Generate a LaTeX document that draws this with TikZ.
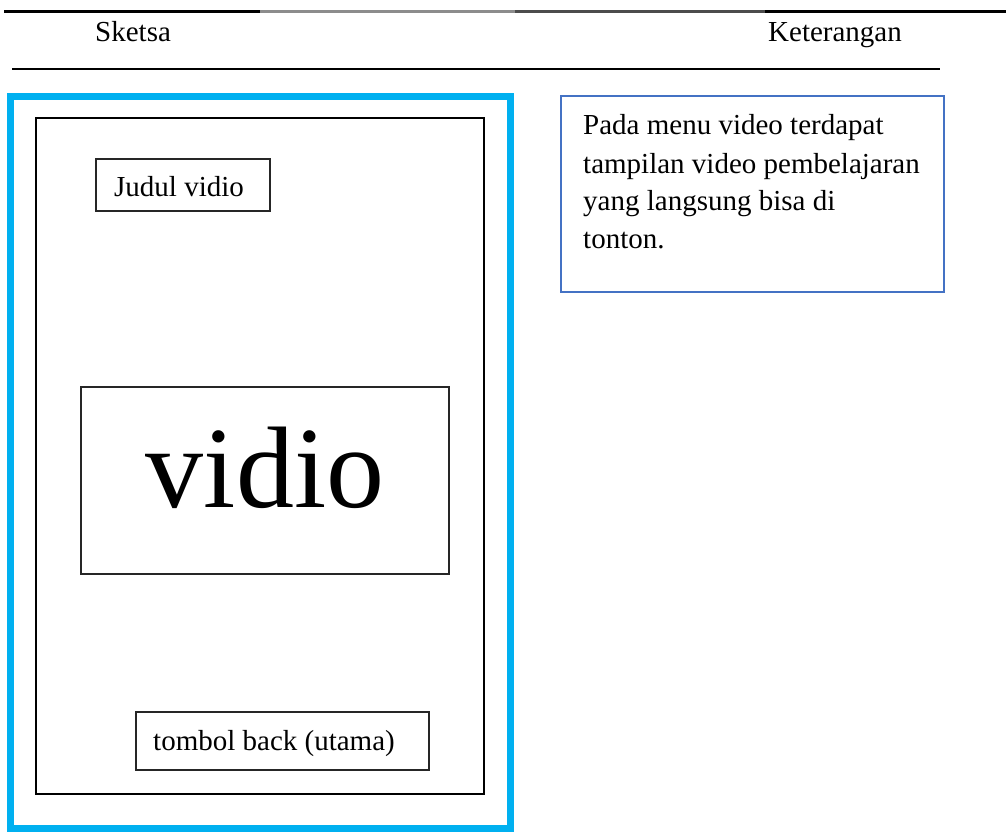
\documentclass[tikz,border=0pt]{standalone}
\usepackage{fontspec}
\setmainfont{Liberation Serif}
\definecolor{frameblue}{HTML}{00B0F0}
\definecolor{noteblue}{HTML}{4472C4}
\begin{document}
\begin{tikzpicture}[x=1pt,y=-1pt,
  body/.style={font=\fontsize{29}{38}\selectfont, inner sep=0pt},
  boxline/.style={draw=black!85, line width=1.4pt},
  rule/.style={line width=3pt}]
\useasboundingbox (0,0) rectangle (1006,832);

% table header rules
\draw[rule, black] (4,12) -- (260,12);
\draw[rule, black!45] (260,12) -- (515,12);
\draw[rule, black!70] (515,12) -- (765,12);
\draw[rule, black] (765,12) -- (1006,12);
\draw[line width=2.6pt, black] (12,69) -- (940,69);

% column headings
\node[body, anchor=base west] (sketsa) at (95,42) {Sketsa};
\node[body, anchor=base west] (ket) at (768,42) {Keterangan};

% sketch of the video screen
\draw[frameblue, line width=7pt] (10.5,97) rectangle (510.5,828);
\draw[boxline, draw=black] (36,118) rectangle (484,794);

\draw[boxline] (96,159) rectangle (270,211);
\node[body, anchor=base west] (judul) at (114,196) {Judul vidio};

\draw[boxline] (81,387) rectangle (449,574);
\node[font=\fontsize{116}{120}\selectfont, inner sep=0pt, anchor=base] (vid) at (265,507) {vidio};

\draw[boxline] (136,712) rectangle (429,770);
\node[body, anchor=base west] (back) at (153,750) {tombol back (utama)};

% description box
\draw[noteblue, line width=2.5pt] (561,96) rectangle (944,292);
\node[body, anchor=base west] (l1) at (583,135) {Pada menu video terdapat};
\node[body, anchor=base west] (l2) at (583,173) {tampilan video pembelajaran};
\node[body, anchor=base west] (l3) at (583,210) {yang langsung bisa di};
\node[body, anchor=base west] (l4) at (583,248) {tonton.};
\end{tikzpicture}
\end{document}
